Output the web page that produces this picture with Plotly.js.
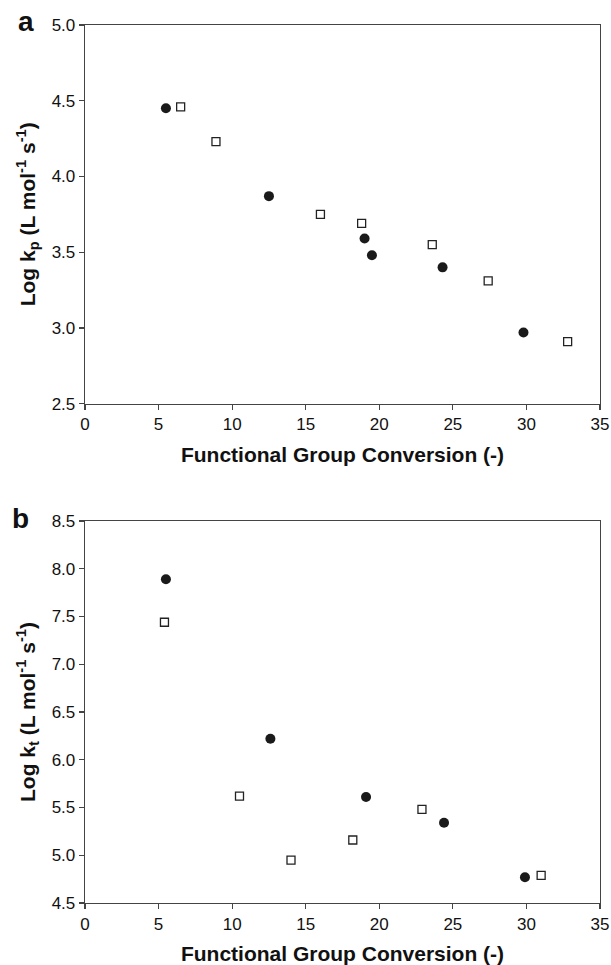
<!DOCTYPE html>
<html>
<head>
<meta charset="utf-8">
<script src="https://cdn.plot.ly/plotly-3.0.1.min.js"></script>
<style>html,body{margin:0;padding:0;background:#fff;}#chart{width:611px;height:965px;}</style>
</head>
<body>
<div id="chart"></div>
<script>
// Panel a: Log kp vs functional group conversion
const aCircleX = [5.5, 12.5, 19.0, 19.5, 24.3, 29.8];
const aCircleY = [4.45, 3.87, 3.59, 3.48, 3.40, 2.97];
const aSquareX = [6.5, 8.9, 16.0, 18.8, 23.6, 27.4, 32.8];
const aSquareY = [4.46, 4.23, 3.75, 3.69, 3.55, 3.31, 2.91];
// Panel b: Log kt vs functional group conversion
const bCircleX = [5.5, 12.6, 19.1, 24.4, 29.9];
const bCircleY = [7.89, 6.22, 5.61, 5.34, 4.77];
const bSquareX = [5.4, 10.5, 14.0, 18.2, 22.9, 31.0];
const bSquareY = [7.44, 5.62, 4.95, 5.16, 5.48, 4.79];

const xTitle = "Functional Group Conversion (-)";
const yTitleA = "Log k<sub>p</sub> (L mol<sup>-1</sup> s<sup>-1</sup>)";
const yTitleB = "Log k<sub>t</sub> (L mol<sup>-1</sup> s<sup>-1</sup>)";

const FONT = "Liberation Sans, Arial, sans-serif";
const circleMarker = {symbol: "circle", size: 10, color: "#1a1a1a", line: {width: 0}};
const squareMarker = {symbol: "square", size: 8, color: "#ffffff", line: {color: "#222222", width: 1.3}};

const traces = [
  {x: aCircleX, y: aCircleY, xaxis: "x", yaxis: "y", mode: "markers", type: "scatter", marker: circleMarker, showlegend: false},
  {x: aSquareX, y: aSquareY, xaxis: "x", yaxis: "y", mode: "markers", type: "scatter", marker: squareMarker, showlegend: false},
  {x: bCircleX, y: bCircleY, xaxis: "x2", yaxis: "y2", mode: "markers", type: "scatter", marker: circleMarker, showlegend: false},
  {x: bSquareX, y: bSquareY, xaxis: "x2", yaxis: "y2", mode: "markers", type: "scatter", marker: squareMarker, showlegend: false}
];

function xAxis(anchor) {
  return {
    domain: [0, 1], anchor: anchor, range: [0, 35], dtick: 5, tick0: 0,
    ticks: "outside", ticklen: 5, tickwidth: 1.2, tickcolor: "#444",
    showline: true, mirror: true, linecolor: "#444", linewidth: 1.3,
    showgrid: false, zeroline: false,
    tickfont: {family: FONT, size: 17, color: "#111"},
    title: {text: "<b>" + xTitle + "</b>", font: {family: FONT, size: 21, color: "#111"}, standoff: 14}
  };
}
function yAxis(anchor, domain, range, title) {
  return {
    domain: domain, anchor: anchor, range: range, dtick: 0.5, tickformat: ".1f",
    ticks: "outside", ticklen: 5, tickwidth: 1.2, tickcolor: "#444",
    showline: true, mirror: true, linecolor: "#444", linewidth: 1.3,
    showgrid: false, zeroline: false,
    tickfont: {family: FONT, size: 17, color: "#111"},
    title: {text: "<b>" + title + "</b>", font: {family: FONT, size: 21, color: "#111"}, standoff: 10}
  };
}

const layout = {
  width: 611, height: 965,
  margin: {l: 85, r: 11, t: 0, b: 0},
  paper_bgcolor: "#fff", plot_bgcolor: "#fff",
  font: {family: FONT, color: "#111"},
  xaxis: xAxis("y"),
  yaxis: yAxis("x", [0.5817, 0.9741], [2.5, 5.0], yTitleA),
  xaxis2: xAxis("y2"),
  yaxis2: yAxis("x2", [0.0642, 0.4601], [4.5, 8.5], yTitleB),
  annotations: [
    {text: "<b>a</b>", xref: "paper", yref: "paper", x: -0.115, y: 0.978, xanchor: "center", yanchor: "middle", showarrow: false, font: {family: FONT, size: 28, color: "#111"}},
    {text: "<b>b</b>", xref: "paper", yref: "paper", x: -0.125, y: 0.4632, xanchor: "center", yanchor: "middle", showarrow: false, font: {family: FONT, size: 28, color: "#111"}}
  ]
};

Plotly.newPlot("chart", traces, layout, {staticPlot: true, displayModeBar: false});
</script>
</body>
</html>
